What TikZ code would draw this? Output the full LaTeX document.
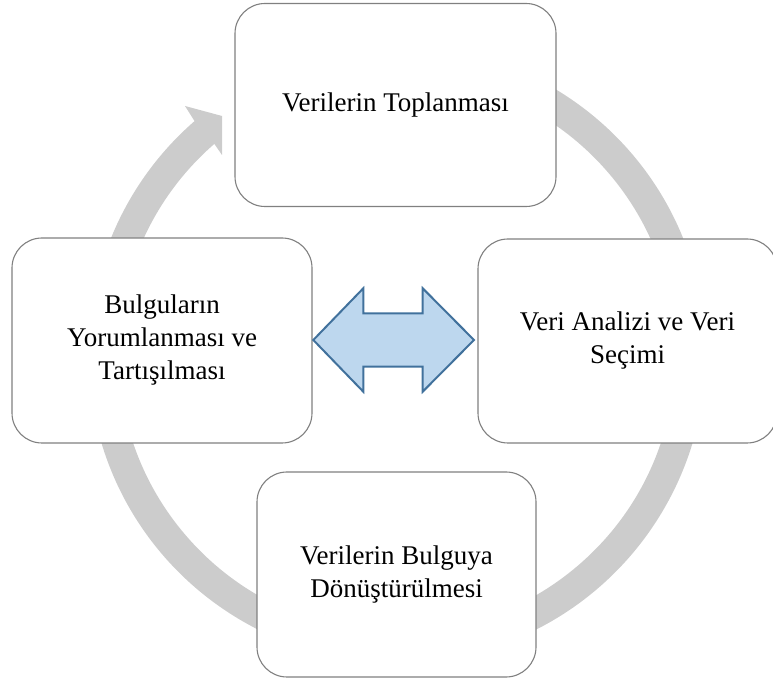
\documentclass[tikz,border=0pt]{standalone}
\usepackage{fontspec}
\setmainfont{Liberation Serif}
\definecolor{ringgray}{RGB}{204,204,204}
\definecolor{boxline}{RGB}{128,128,128}
\definecolor{arrowfill}{RGB}{189,215,238}
\definecolor{arrowline}{RGB}{65,113,156}
\begin{document}
\begin{tikzpicture}[x=1pt,y=1pt,
  stepbox/.style={draw=boxline, line width=1.1pt, fill=white, rounded corners=30pt,
    align=center, inner sep=0pt, font=\fontsize{27}{33}\selectfont},
  ringfill/.style={fill=ringgray},
  dblarrow/.style={fill=arrowfill, draw=arrowline, line width=2pt, line join=miter}]
\useasboundingbox (0,0) rectangle (773,682);
\coordinate (C) at (397,328);
% circular arrow behind the boxes
\fill[ringfill] (185,576) -- (222,566) -- (222,527) -- (214.35,538.1)
  arc[start angle=131, end angle=460, radius=278.4pt]
  -- ++(100:30.2pt)
  arc[start angle=460, end angle=131, radius=308.6pt] -- cycle;
% boxes
\node[stepbox, minimum width=321pt, minimum height=203pt] (top) at (395.5,577) {Verilerin Toplanması};
\node[stepbox, minimum width=300pt, minimum height=205pt] (left) at (162,341.5) {Bulguların\\Yorumlanması ve\\Tartışılması};
\node[stepbox, minimum width=299pt, minimum height=204pt] (right) at (627.5,341) {Veri Analizi ve Veri\\Seçimi};
\node[stepbox, minimum width=279pt, minimum height=205pt] (bottom) at (396.5,107.5) {Verilerin Bulguya\\Dönüştürülmesi};
% double arrow in the middle
\filldraw[dblarrow] (313.3,342) -- (363.3,393.7) -- (363.3,368.7) -- (422.7,368.7) -- (422.7,393.7)
  -- (474,342) -- (422.7,290.3) -- (422.7,315.3) -- (363.3,315.3) -- (363.3,290.3) -- cycle;
\end{tikzpicture}
\end{document}
